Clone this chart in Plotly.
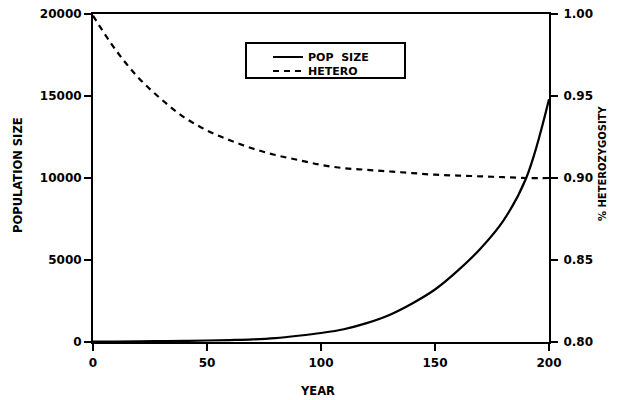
import plotly.graph_objects as go

years = [0, 10, 20, 30, 40, 50, 60, 70, 80, 90, 100, 110, 120, 130, 140, 150, 160, 170, 180, 190, 200]
pop_size = [25, 30, 40, 55, 70, 90, 120, 160, 240, 380, 550, 780, 1150, 1650, 2350, 3200, 4350, 5700, 7400, 10000, 14800]
hetero = [0.999, 0.978, 0.961, 0.948, 0.937, 0.929, 0.923, 0.918, 0.914, 0.911, 0.908, 0.906, 0.905, 0.904, 0.903, 0.902, 0.9015, 0.901, 0.9005, 0.900, 0.900]

FONT = "DejaVu Sans, Verdana, sans-serif"

# page body has an 8px default margin; work in window pixels and convert
OFF = 8
W, H = 617 - OFF, 400 - OFF
X0, X1, Y0, Y1 = 93, 549, 14, 342          # plot area in window pixels
L, R, T, B = X0 - OFF, W - (X1 - OFF), Y0 - OFF, H - (Y1 - OFF)
PW, PH = X1 - X0, Y1 - Y0


def px(xw):
    return (xw - X0) / PW


def py(yw):
    return (Y1 - yw) / PH


fig = go.Figure()
fig.add_trace(go.Scatter(x=years, y=pop_size, name="POP  SIZE", mode="lines", legend="legend",
                         line=dict(color="black", width=2.2, shape="spline")))
fig.add_trace(go.Scatter(x=years, y=hetero, name="HETERO", mode="lines", yaxis="y2", legend="legend2",
                         line=dict(color="black", width=2.2, dash="6px,5px", shape="spline")))

axis_common = dict(showline=True, linecolor="black", linewidth=2, ticks="outside",
                   ticklen=7, tickwidth=2, tickcolor="black", showgrid=False, zeroline=False,
                   automargin=False, ticklabeloverflow="allow",
                   tickfont=dict(family=FONT, size=12, color="black", weight="bold"))

leg_common = dict(xanchor="left", yanchor="middle", borderwidth=0, bgcolor="rgba(0,0,0,0)",
                  font=dict(family=FONT, size=11, color="black", weight="bold"),
                  itemwidth=30)

title_font = dict(family=FONT, size=11.5, color="black", weight="bold")

fig.update_layout(
    width=W, height=H,
    margin=dict(l=L, r=R, t=T, b=B),
    plot_bgcolor="white", paper_bgcolor="white",
    font=dict(family=FONT, color="black"),
    xaxis=dict(range=[0, 200], dtick=50, mirror=True, ticklabelstandoff=2, **axis_common),
    yaxis=dict(range=[0, 20000], dtick=5000, tickformat="d", **axis_common),
    yaxis2=dict(range=[0.8, 1.0], dtick=0.05, tickformat=".2f", overlaying="y", side="right",
                ticklabelstandoff=3, **axis_common),
    legend=dict(x=px(268), y=py(57), **leg_common),
    legend2=dict(x=px(268), y=py(71), **leg_common),
    showlegend=True,
    shapes=[dict(type="rect", xref="paper", yref="paper",
                 x0=px(246), x1=px(405), y0=py(78), y1=py(43),
                 line=dict(color="black", width=2), fillcolor="rgba(0,0,0,0)")],
    annotations=[
        dict(text="POPULATION SIZE", xref="paper", yref="paper", x=px(18), y=py(175),
             textangle=-90, showarrow=False, font=title_font, xanchor="center", yanchor="middle"),
        dict(text="% HETEROZYGOSITY", xref="paper", yref="paper", x=px(602), y=py(163),
             textangle=-90, showarrow=False, font=dict(title_font, size=10), xanchor="center", yanchor="middle"),
        dict(text="YEAR", xref="paper", yref="paper", x=px(317), y=py(391),
             showarrow=False, font=title_font, xanchor="center", yanchor="middle"),
    ],
)

fig.write_html("out.html")
